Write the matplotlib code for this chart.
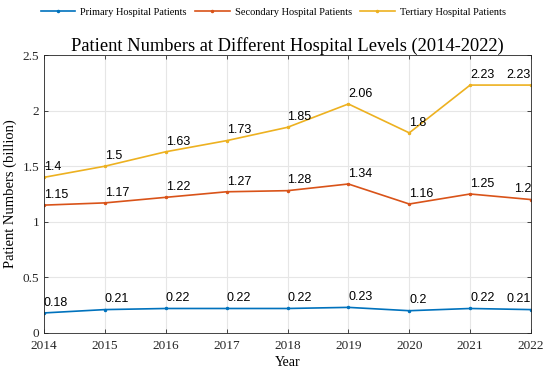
import matplotlib
matplotlib.use('Agg')
import matplotlib.pyplot as plt

years = [2014, 2015, 2016, 2017, 2018, 2019, 2020, 2021, 2022]
primary = [0.18, 0.21, 0.22, 0.22, 0.22, 0.23, 0.20, 0.22, 0.21]
secondary = [1.15, 1.17, 1.22, 1.27, 1.28, 1.34, 1.16, 1.25, 1.20]
tertiary = [1.40, 1.50, 1.63, 1.73, 1.85, 2.06, 1.80, 2.23, 2.23]
names = ['Primary Hospital Patients', 'Secondary Hospital Patients', 'Tertiary Hospital Patients']
colors = ['#0072BD', '#D95319', '#EDB120']

serif = 'Liberation Serif'
sans = 'Liberation Sans'

fig = plt.figure(figsize=(5.5, 3.72), dpi=100)
ax = fig.add_axes([0.08, 0.105, 0.8855, 0.747])

for vals, name, c in zip([primary, secondary, tertiary], names, colors):
    ax.plot(years, vals, '.-', color=c, lw=1.2, ms=3, label=name)
    for i, (x, y) in enumerate(zip(years, vals)):
        # last label sits inside the right edge
        ha = 'right' if i == len(years) - 1 else 'left'
        ax.text(x, y + 0.065, '%g' % y, fontsize=9, family=sans, ha=ha, va='baseline')

ax.set_xlim(2014, 2022)
ax.set_ylim(0, 2.5)
ax.set_xticks(years)
ax.set_yticks([0, 0.5, 1, 1.5, 2, 2.5])
ax.set_yticklabels(['0', '0.5', '1', '1.5', '2', '2.5'])
ax.grid(True, color='#e6e6e6', lw=0.8)
ax.set_axisbelow(True)
ax.tick_params(direction='in', top=True, right=True, length=3, width=0.6, labelsize=9.5, colors='#262626')
ax.tick_params(axis='x', pad=5)
for lab in ax.get_xticklabels() + ax.get_yticklabels():
    lab.set_family(serif)
for s in ax.spines.values():
    s.set_color('#262626')
    s.set_linewidth(0.6)

ax.set_xlabel('Year', family=serif, fontsize=10, labelpad=3)
ax.set_ylabel('Patient Numbers (billion)', family=serif, fontsize=10.5, labelpad=4)
ax.set_title('Patient Numbers at Different Hospital Levels (2014-2022)', family=serif, fontsize=13.3, pad=3)

fig.legend(loc='upper center', bbox_to_anchor=(0.497, 1.005), ncol=3, frameon=False,
           prop={'family': serif, 'size': 7.5}, handlelength=3.3, columnspacing=0.8, handletextpad=0.5)

fig.savefig('out.png', dpi=100)
